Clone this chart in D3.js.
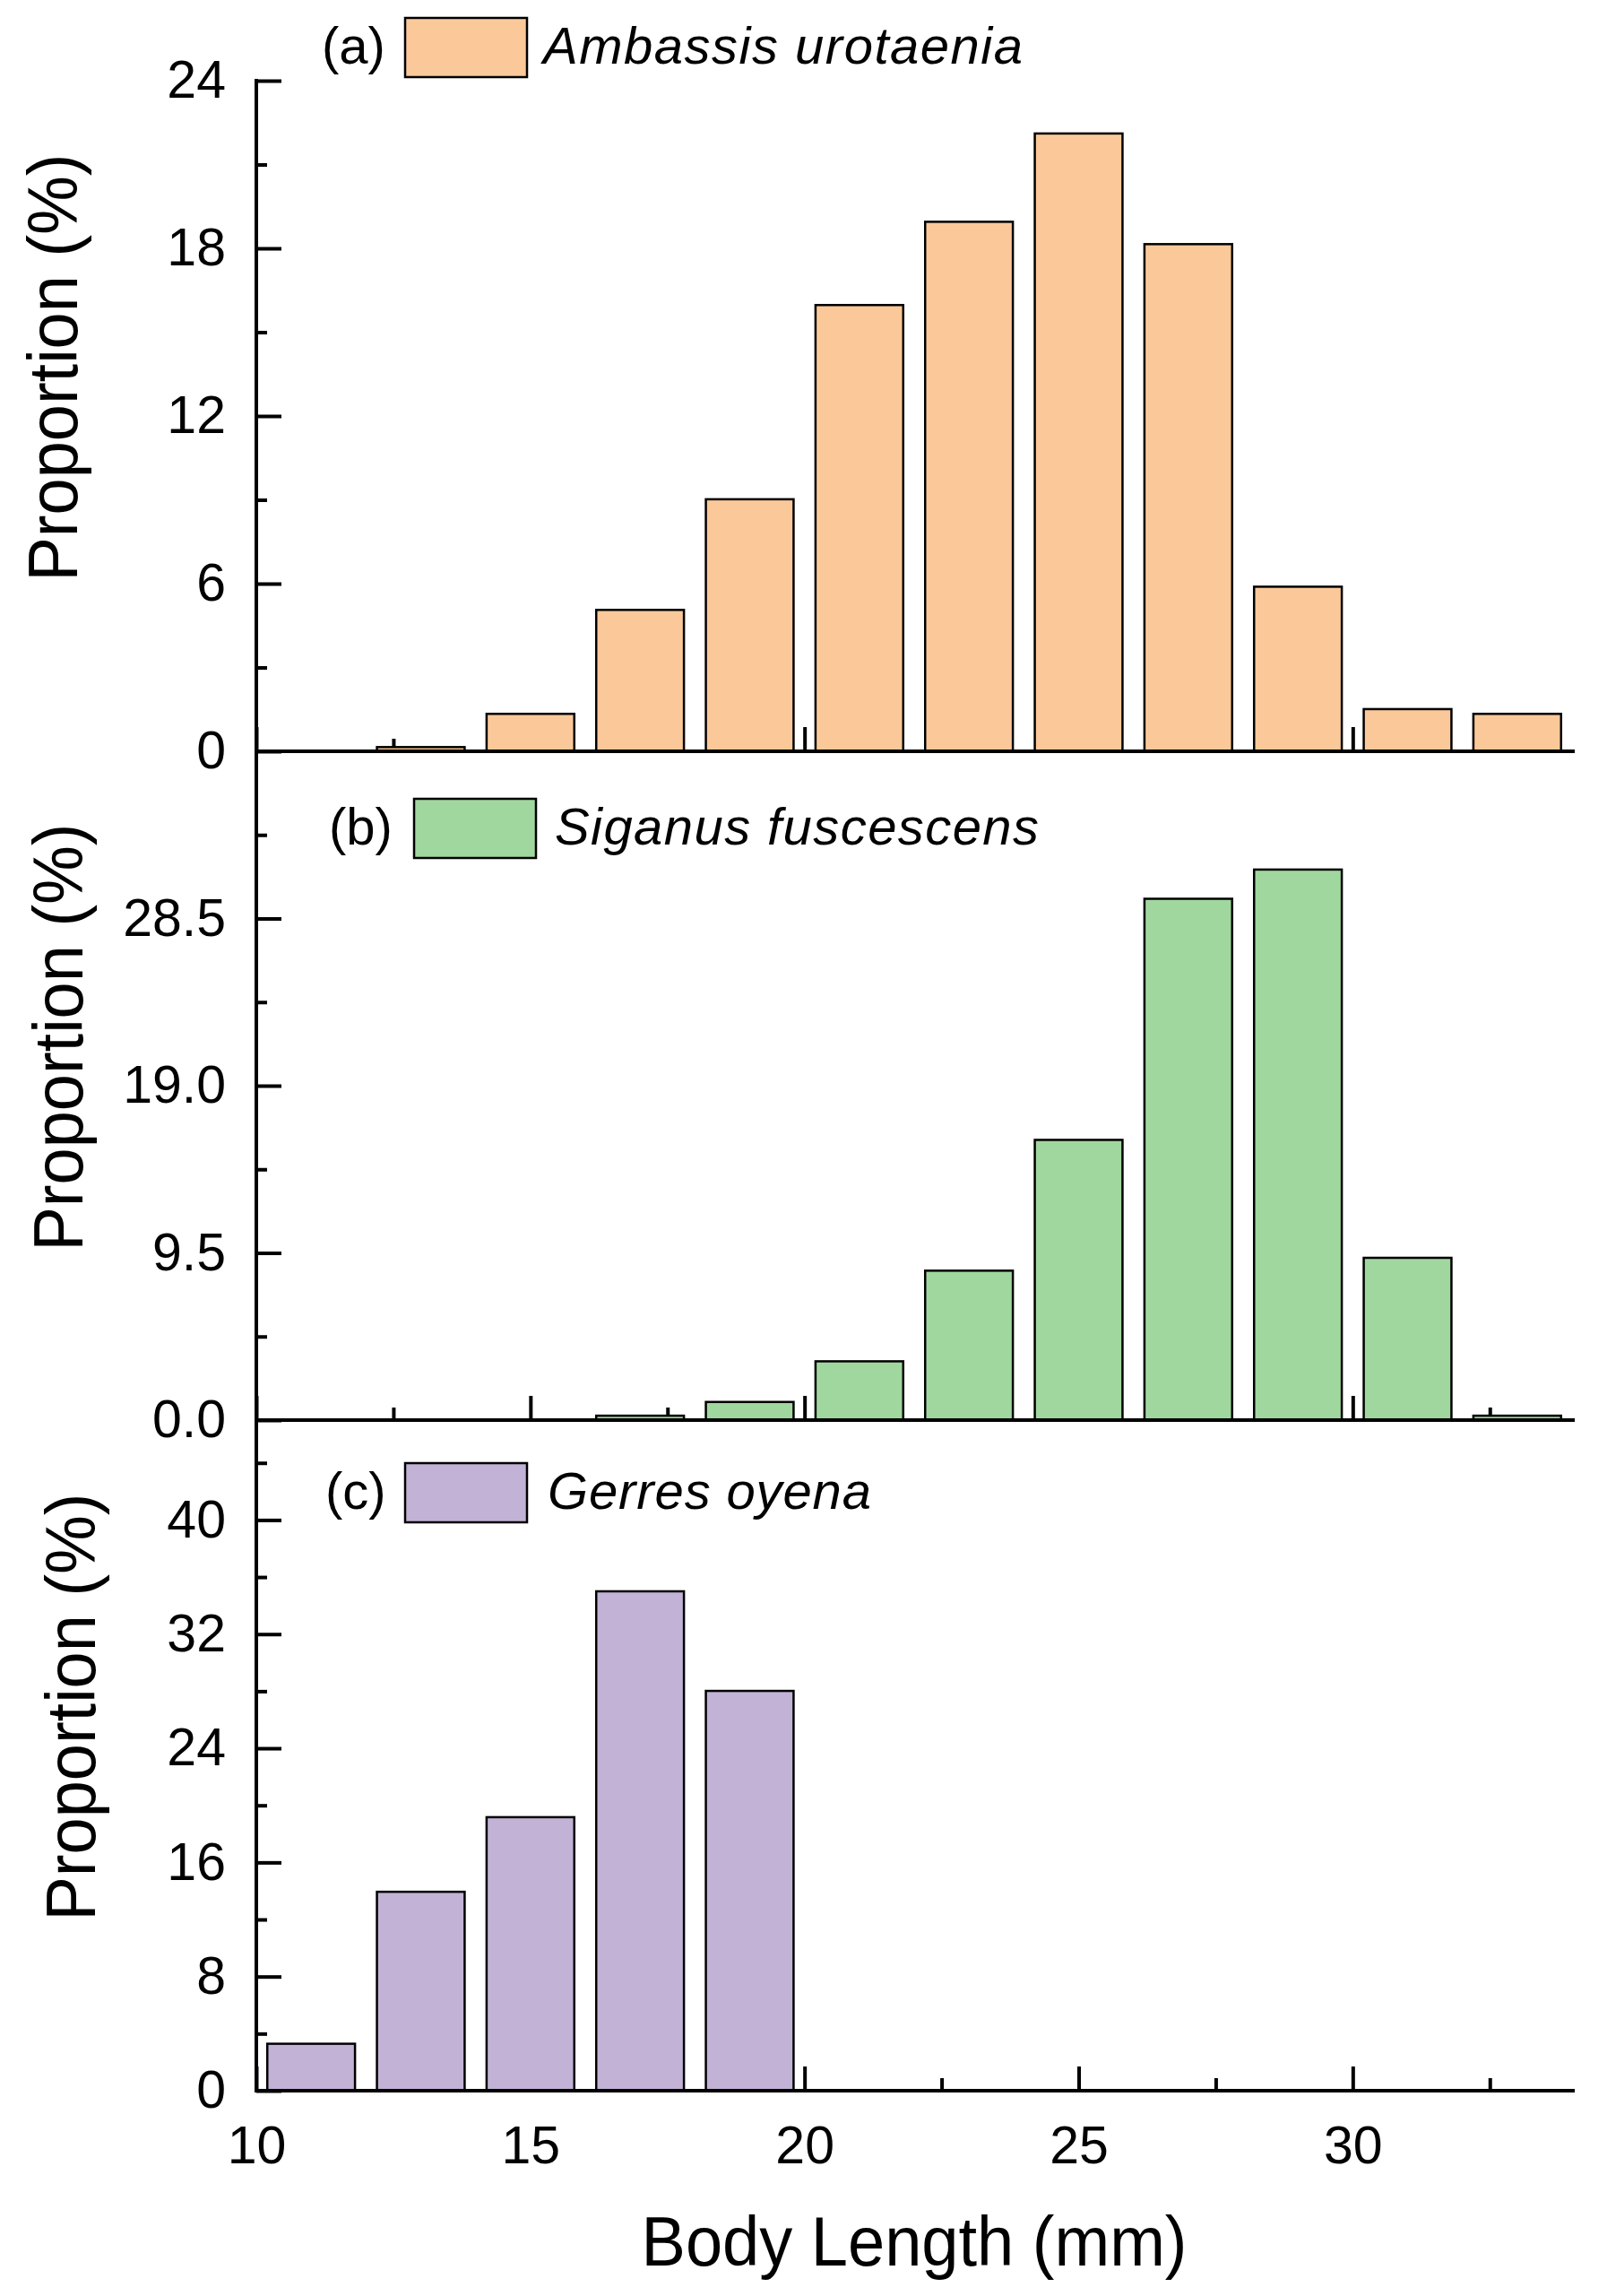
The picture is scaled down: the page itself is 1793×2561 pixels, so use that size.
<!DOCTYPE html>
<html>
  <head>
    <meta charset="utf-8">
    <script src="https://d3js.org/d3.v7.min.js"></script>
    <style>
      body {
        margin: 0;
        background-color: #ffffff;
      }
      svg {
        font-family: "Liberation Sans", Arial, sans-serif;
      }
      .bar {
        stroke: #000000;
        stroke-width: 2.5;
      }
    </style>
  </head>

  <body>
    <script>
      // bin centres (mm), each bin is 2 mm wide
      const binCentres = [11, 13, 15, 17, 19, 21, 23, 25, 27, 29, 31, 33]

      // proportions (%) per bin
      const ambassis = [0, 0.15, 1.34, 5.06, 9.02, 15.97, 18.95, 22.11, 18.15, 5.89, 1.51, 1.34]
      const siganus = [0, 0, 0, 0.25, 1.03, 3.34, 8.49, 15.92, 29.62, 31.28, 9.22, 0.25]
      const gerres = [3.29, 13.94, 19.17, 35.0, 28.02, 0, 0, 0, 0, 0, 0, 0]

      const speciesNames = ["Ambassis urotaenia", "Siganus fuscescens", "Gerres oyena"]
      const panelTags = ["(a)", "(b)", "(c)"]
      const speciesColors = ["#fbc999", "#a0d79e", "#c2b2d6"]

      // y axis settings per panel
      const yMax = [24, 38, 47]
      const yMajor = [[0, 6, 12, 18, 24], [0, 9.5, 19, 28.5], [0, 8, 16, 24, 32, 40]]
      const yMinor = [[3, 9, 15, 21], [4.75, 14.25, 23.75, 33.25], [4, 12, 20, 28, 36, 44]]
      const yFormats = ["d", ".1f", "d"]

      // x axis ticks
      const xMajor = [10, 15, 20, 25, 30]
      const xMinor = [12.5, 17.5, 22.5, 27.5, 32.5]

      const series = [ambassis, siganus, gerres]

      const w = 1793
      const h = 2561
      const left = 286
      const right = 1754
      const tops = [90, 838, 1584]
      const bottoms = [838, 1584, 2332]
      const binWidth = 1.6

      // legend placement per panel (tag x, box x, name x, box centre y, name width)
      const legendPos = [
        {tag: 359, box: 452, name: 606, cy: 53, len: 535},
        {tag: 367, box: 462, name: 619, cy: 924, len: 540},
        {tag: 363, box: 452, name: 611, cy: 1665, len: 361}
      ]
      const ylabelPos = [{x: 86}, {x: 92}, {x: 106}]

      const svg = d3.select("body")
        .append("svg")
          .attr("width", w)
          .attr("height", h)

      svg.append("rect")
        .attr("width", w)
        .attr("height", h)
        .attr("fill", "#ffffff")

      const xScale = d3.scaleLinear()
        .domain([10, 34])
        .range([left, right])

      series.forEach((values, i) => {
        const yScale = d3.scaleLinear()
          .domain([0, yMax[i]])
          .range([bottoms[i], tops[i]])

        const g = svg.append("g")

        // x ticks first so the bars cover them
        const xAxis = d3.axisBottom(xScale)
          .tickValues(xMajor)
          .tickSizeInner(-27)
          .tickSizeOuter(0)
          .tickPadding(39)
          .tickFormat(i === 2 ? d3.format("d") : "")
        const xg = g.append("g")
          .attr("transform", "translate(0," + bottoms[i] + ")")
          .call(xAxis)
        xg.select(".domain").remove()

        const xMinorAxis = d3.axisBottom(xScale)
          .tickValues(xMinor)
          .tickSizeInner(-14)
          .tickSizeOuter(0)
          .tickFormat("")
        const xmg = g.append("g")
          .attr("transform", "translate(0," + bottoms[i] + ")")
          .call(xMinorAxis)
        xmg.select(".domain").remove()

        g.selectAll(".bar")
          .data(binCentres.map((c, j) => ({c: c, v: values[j]})).filter((d) => d.v > 0))
          .enter()
          .append("rect")
            .attr("class", "bar")
            .attr("x", (d) => xScale(d.c - binWidth / 2))
            .attr("width", (d) => xScale(d.c + binWidth / 2) - xScale(d.c - binWidth / 2))
            .attr("y", (d) => yScale(d.v))
            .attr("height", (d) => yScale(0) - yScale(d.v))
            .attr("fill", speciesColors[i])

        // baseline over the bars
        g.append("line")
          .attr("x1", left - 2)
          .attr("x2", right + 3)
          .attr("y1", bottoms[i])
          .attr("y2", bottoms[i])
          .attr("stroke", "#000")
          .attr("stroke-width", 4)

        const yAxis = d3.axisLeft(yScale)
          .tickValues(yMajor[i])
          .tickSizeInner(-28)
          .tickSizeOuter(0)
          .tickPadding(34)
          .tickFormat(d3.format(yFormats[i]))
        const yg = g.append("g")
          .attr("transform", "translate(" + left + ",0)")
          .call(yAxis)
        yg.select(".domain").remove()

        const yMinorAxis = d3.axisLeft(yScale)
          .tickValues(yMinor[i])
          .tickSizeInner(-12)
          .tickSizeOuter(0)
          .tickFormat("")
        const ymg = g.append("g")
          .attr("transform", "translate(" + left + ",0)")
          .call(yMinorAxis)
        ymg.select(".domain").remove()

        g.append("line")
          .attr("x1", left)
          .attr("x2", left)
          .attr("y1", tops[i] - (i === 0 ? 2 : 0))
          .attr("y2", bottoms[i] + 2)
          .attr("stroke", "#000")
          .attr("stroke-width", 4)

        g.selectAll(".tick line")
          .attr("stroke-width", 4)
        g.selectAll(".tick text")
          .attr("font-size", 59)
          .attr("font-family", "Liberation Sans, Arial, sans-serif")
          .attr("fill", "#000")

        // y label
        svg.append("text")
          .attr("transform", "translate(" + ylabelPos[i].x + "," + ((tops[i] + bottoms[i]) / 2 - 54) + ") rotate(-90)")
          .attr("text-anchor", "middle")
          .attr("font-size", 78)
          .attr("textLength", 477)
          .attr("lengthAdjust", "spacingAndGlyphs")
          .text("Proportion (%)")

        // legend
        const lp = legendPos[i]
        svg.append("text")
          .attr("x", lp.tag)
          .attr("y", lp.cy + 18)
          .attr("font-size", 58)
          .text(panelTags[i])
        svg.append("rect")
          .attr("x", lp.box)
          .attr("y", lp.cy - 33)
          .attr("width", 136)
          .attr("height", 66)
          .attr("fill", speciesColors[i])
          .attr("stroke", "#000")
          .attr("stroke-width", 2.5)
        svg.append("text")
          .attr("x", lp.name)
          .attr("y", lp.cy + 18)
          .attr("font-size", 58)
          .attr("font-style", "italic")
          .attr("textLength", lp.len)
          .attr("lengthAdjust", "spacing")
          .text(speciesNames[i])
      })

      svg.append("text")
        .attr("x", (left + right) / 2)
        .attr("y", 2527)
        .attr("text-anchor", "middle")
        .attr("font-size", 77)
        .attr("textLength", 609)
        .attr("lengthAdjust", "spacingAndGlyphs")
        .text("Body Length (mm)")
    </script>
  </body>
</html>
